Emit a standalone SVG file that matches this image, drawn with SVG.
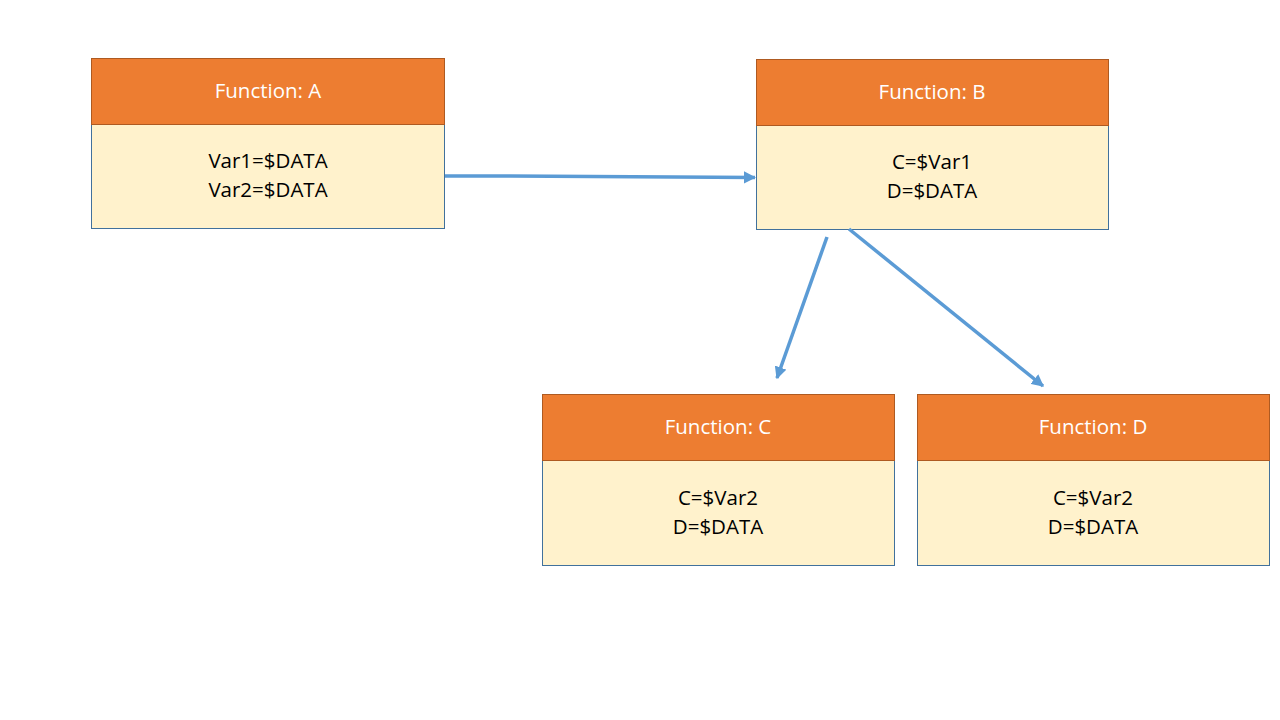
<svg xmlns="http://www.w3.org/2000/svg" width="1280" height="720" viewBox="0 0 1280 720">
<style>
.hd{fill:#ED7D31;stroke:#AE5A21;stroke-width:1}
.bd{fill:#FFF2CC;stroke:#41719C;stroke-width:1}
.ht{font-family:"Open Sans","Liberation Sans",sans-serif;font-size:20.5px;fill:#FFFFFF;text-anchor:middle}
.bt{font-family:"Open Sans","Liberation Sans",sans-serif;font-size:20.5px;fill:#000000;text-anchor:middle}
.cn{stroke:#5B9BD5;stroke-width:3.5;fill:none;marker-end:url(#ah)}
</style>
<defs>
<marker id="ah" viewBox="0 0 10 10" refX="9" refY="5" markerWidth="3.5" markerHeight="3.5" orient="auto" markerUnits="strokeWidth">
<path d="M0,0 L10,5 L0,10 z" fill="#5B9BD5"/>
</marker>
</defs>
<rect width="1280" height="720" fill="#FFFFFF"/>
<g id="nodeA">
<rect class="bd" x="91.5" y="124.5" width="353" height="104"/>
<rect class="hd" x="91.5" y="58.5" width="353" height="66"/>
<text class="ht" x="268" y="98">Function: A</text>
<text class="bt" x="268" y="168">Var1=$DATA</text>
<text class="bt" x="268" y="197">Var2=$DATA</text>
</g>
<g id="nodeB">
<rect class="bd" x="756.5" y="125.5" width="352" height="104"/>
<rect class="hd" x="756.5" y="59.5" width="352" height="66"/>
<text class="ht" x="932" y="99">Function: B</text>
<text class="bt" x="932" y="169">C=$Var1</text>
<text class="bt" x="932" y="198">D=$DATA</text>
</g>
<g id="nodeC">
<rect class="bd" x="542.5" y="460.5" width="352" height="105"/>
<rect class="hd" x="542.5" y="394.5" width="352" height="66"/>
<text class="ht" x="718" y="434">Function: C</text>
<text class="bt" x="718" y="505">C=$Var2</text>
<text class="bt" x="718" y="534">D=$DATA</text>
</g>
<g id="nodeD">
<rect class="bd" x="917.5" y="460.5" width="352" height="105"/>
<rect class="hd" x="917.5" y="394.5" width="352" height="66"/>
<text class="ht" x="1093" y="434">Function: D</text>
<text class="bt" x="1093" y="505">C=$Var2</text>
<text class="bt" x="1093" y="534">D=$DATA</text>
</g>
<g id="connectors">
<path class="cn" d="M445,176 L510,176 L755,177.5"/>
<path class="cn" d="M827,237 L777,378"/>
<path class="cn" d="M849,229 L1043,386"/>
</g>
</svg>
